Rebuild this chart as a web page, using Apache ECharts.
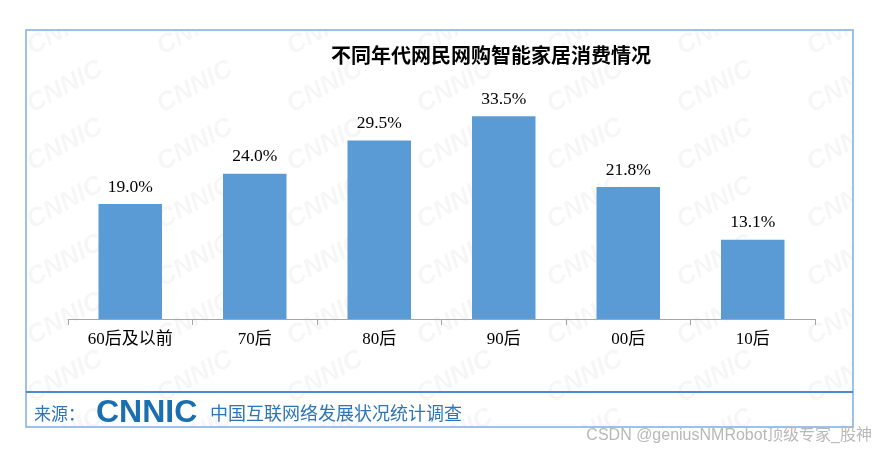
<!DOCTYPE html>
<html><head><meta charset="utf-8">
<script src="https://cdn.jsdelivr.net/npm/echarts@6/dist/echarts.min.js"></script>
<style>html,body{margin:0;padding:0;background:#fff}#c{width:877px;height:450px}</style>
</head><body><div id="c"></div>
<script>
const categories = ['60后及以前', '70后', '80后', '90后', '00后', '10后'];
const values = [19.0, 24.0, 29.5, 33.5, 21.8, 13.1];
const titleText = '不同年代网民网购智能家居消费情况';
const sourceLabel = '来源：';
const sourceName = '中国互联网络发展状况统计调查';
const logoText = 'CNNIC';
const creditText = 'CSDN @geniusNMRobot顶级专家_股神';

// watermark tile
const tile = document.createElement('canvas');
tile.width = 130; tile.height = 58;
const tc = tile.getContext('2d');
tc.fillStyle = 'rgba(0,0,0,0.035)';
tc.font = 'italic bold 26px "Liberation Sans", Arial';
tc.translate(65, 29);
tc.rotate(-0.5);
tc.textAlign = 'center'; tc.textBaseline = 'middle';
tc.fillText('CNNIC', 0, 0);

const chart = echarts.init(document.getElementById('c'));
chart.setOption({
  animation: false,
  backgroundColor: '#fff',
  title: {
    text: titleText, left: 326, top: 40,
    textStyle: { fontFamily: '"Noto Sans CJK SC", sans-serif', fontSize: 20, fontWeight: 'bold', color: '#000' }
  },
  grid: { left: 68, right: 62, top: 77, bottom: 131 },
  xAxis: {
    type: 'category', data: categories,
    axisLine: { lineStyle: { color: '#a6a6a6', width: 1 } },
    axisTick: { show: true, length: 6, lineStyle: { color: '#a6a6a6' } },
    axisLabel: { margin: 12, color: '#000', fontSize: 17, fontFamily: '"Liberation Serif", "Noto Sans CJK SC", serif' }
  },
  yAxis: { type: 'value', min: 0, max: 40, show: false, splitLine: { show: false } },
  series: [{
    type: 'bar', data: values, barCategoryGap: '49%',
    itemStyle: { color: '#5b9bd5' },
    label: {
      show: true, position: 'top', distance: 8, color: '#000', fontSize: 17.5,
      fontFamily: '"Liberation Serif", serif',
      formatter: p => p.value.toFixed(1) + '%'
    }
  }],
  graphic: [
    { type: 'rect', z: -10, silent: true, shape: { x: 26, y: 30, width: 827, height: 397 },
      style: { fill: { image: tile, repeat: 'repeat' }, stroke: null } },
    { type: 'rect', z: 10, silent: true, shape: { x: 26, y: 30, width: 827, height: 397 },
      style: { fill: null, stroke: '#7eaee0', lineWidth: 1.5 } },
    { type: 'line', z: 10, silent: true, shape: { x1: 26, y1: 392, x2: 853, y2: 392 },
      style: { stroke: '#4f88d4', lineWidth: 2 } },
    { type: 'text', z: 10, left: 34, top: 405,
      style: { text: sourceLabel, fill: '#2e75b6', fontSize: 17, fontFamily: '"Noto Sans CJK SC", serif' } },
    { type: 'text', z: 10, left: 96, top: 397,
      style: { text: logoText, fill: '#1a6fb0', fontSize: 32, fontWeight: 900, fontFamily: '"Liberation Sans", Arial' } },
    { type: 'text', z: 10, left: 210, top: 404,
      style: { text: sourceName, fill: '#2e75b6', fontSize: 18, fontFamily: '"Noto Sans CJK SC", serif' } },
    { type: 'text', z: 10, right: 5, top: 428,
      style: { text: creditText, fill: '#b8b8b8', fontSize: 16, fontFamily: '"Liberation Sans", "Noto Sans CJK SC", sans-serif' } }
  ]
});
</script></body></html>
